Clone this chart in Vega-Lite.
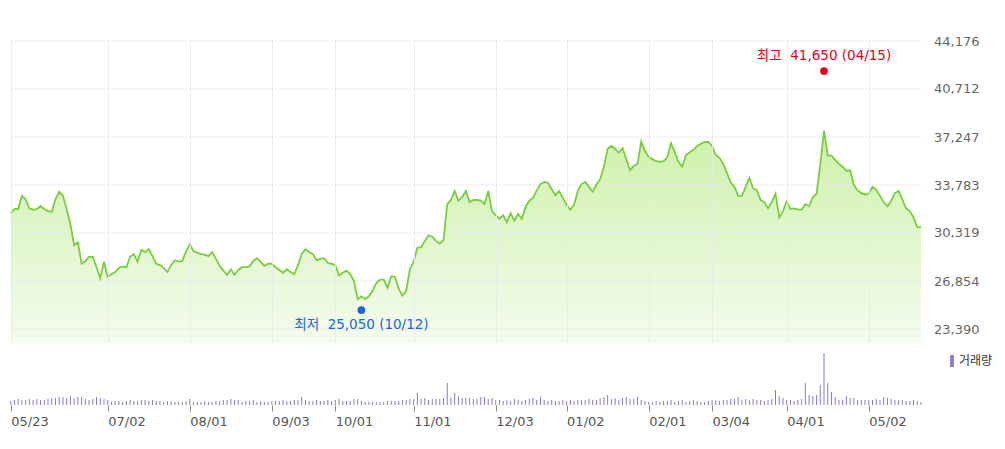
{
  "$schema": "https://vega.github.io/schema/vega-lite/v6.json",
  "background": "white",
  "padding": {"left": 3, "top": 35, "right": 0, "bottom": 0},
  "bounds": "flush",
  "spacing": 6,
  "config": {"view": {"stroke": null}, "axis": {"labelFont": "DejaVu Sans"}},
  "datasets": {
    "px": [
      {"d":"2018-05-23","c":31750,"v":40000},{"d":"2018-05-24","c":32050,"v":50000},{"d":"2018-05-25","c":32050,"v":60000},{"d":"2018-05-28","c":33000,"v":50000},{"d":"2018-05-29","c":32750,"v":50000},{"d":"2018-05-30","c":32100,"v":60000},{"d":"2018-05-31","c":32000,"v":50000},
      {"d":"2018-06-01","c":32050,"v":60000},{"d":"2018-06-04","c":32250,"v":50000},{"d":"2018-06-05","c":32050,"v":50000},{"d":"2018-06-07","c":31900,"v":60000},{"d":"2018-06-08","c":31850,"v":70000},{"d":"2018-06-11","c":32750,"v":70000},{"d":"2018-06-12","c":33300,"v":80000},{"d":"2018-06-14","c":33000,"v":80000},{"d":"2018-06-15","c":32050,"v":70000},{"d":"2018-06-18","c":30950,"v":90000},{"d":"2018-06-19","c":29450,"v":70000},{"d":"2018-06-20","c":29650,"v":80000},{"d":"2018-06-21","c":28100,"v":80000},{"d":"2018-06-22","c":28300,"v":60000},{"d":"2018-06-25","c":28600,"v":50000},{"d":"2018-06-26","c":28600,"v":60000},{"d":"2018-06-27","c":27850,"v":80000},{"d":"2018-06-28","c":27050,"v":70000},{"d":"2018-06-29","c":28250,"v":60000},
      {"d":"2018-07-02","c":27150,"v":50000},{"d":"2018-07-03","c":27350,"v":30000},{"d":"2018-07-04","c":27500,"v":40000},{"d":"2018-07-05","c":27800,"v":40000},{"d":"2018-07-06","c":27900,"v":30000},{"d":"2018-07-09","c":27850,"v":40000},{"d":"2018-07-10","c":28600,"v":50000},{"d":"2018-07-11","c":28800,"v":40000},{"d":"2018-07-12","c":28250,"v":40000},{"d":"2018-07-13","c":29100,"v":50000},{"d":"2018-07-16","c":28950,"v":50000},{"d":"2018-07-17","c":29150,"v":40000},{"d":"2018-07-18","c":28650,"v":50000},{"d":"2018-07-19","c":28100,"v":40000},{"d":"2018-07-20","c":28000,"v":40000},{"d":"2018-07-23","c":27800,"v":30000},{"d":"2018-07-24","c":27500,"v":40000},{"d":"2018-07-25","c":28000,"v":40000},{"d":"2018-07-26","c":28350,"v":30000},{"d":"2018-07-27","c":28250,"v":30000},{"d":"2018-07-30","c":28300,"v":30000},{"d":"2018-07-31","c":29000,"v":40000},
      {"d":"2018-08-01","c":29500,"v":60000},{"d":"2018-08-02","c":29000,"v":30000},{"d":"2018-08-03","c":28900,"v":30000},{"d":"2018-08-06","c":28800,"v":30000},{"d":"2018-08-07","c":28750,"v":40000},{"d":"2018-08-08","c":28650,"v":30000},{"d":"2018-08-09","c":28950,"v":30000},{"d":"2018-08-10","c":28450,"v":40000},{"d":"2018-08-13","c":27950,"v":40000},{"d":"2018-08-14","c":27600,"v":50000},{"d":"2018-08-16","c":27300,"v":50000},{"d":"2018-08-17","c":27700,"v":60000},{"d":"2018-08-20","c":27300,"v":50000},{"d":"2018-08-21","c":27650,"v":50000},{"d":"2018-08-22","c":27850,"v":30000},{"d":"2018-08-23","c":27850,"v":40000},{"d":"2018-08-24","c":27900,"v":40000},{"d":"2018-08-27","c":28300,"v":50000},{"d":"2018-08-28","c":28500,"v":30000},{"d":"2018-08-29","c":28250,"v":40000},{"d":"2018-08-30","c":27950,"v":30000},{"d":"2018-08-31","c":28100,"v":30000},
      {"d":"2018-09-03","c":28100,"v":40000},{"d":"2018-09-04","c":27850,"v":40000},{"d":"2018-09-05","c":27650,"v":40000},{"d":"2018-09-06","c":27450,"v":50000},{"d":"2018-09-07","c":27700,"v":40000},{"d":"2018-09-10","c":27500,"v":40000},{"d":"2018-09-11","c":27350,"v":50000},{"d":"2018-09-12","c":28000,"v":50000},{"d":"2018-09-13","c":28800,"v":80000},{"d":"2018-09-14","c":29150,"v":50000},{"d":"2018-09-17","c":28950,"v":40000},{"d":"2018-09-18","c":28800,"v":40000},{"d":"2018-09-19","c":28350,"v":50000},{"d":"2018-09-20","c":28450,"v":40000},{"d":"2018-09-21","c":28500,"v":40000},{"d":"2018-09-27","c":28150,"v":50000},{"d":"2018-09-28","c":28100,"v":40000},
      {"d":"2018-10-01","c":28000,"v":50000},{"d":"2018-10-02","c":27250,"v":60000},{"d":"2018-10-04","c":27450,"v":40000},{"d":"2018-10-05","c":27600,"v":40000},{"d":"2018-10-08","c":27350,"v":40000},{"d":"2018-10-10","c":26850,"v":60000},{"d":"2018-10-11","c":25550,"v":60000},{"d":"2018-10-12","c":25750,"v":40000},{"d":"2018-10-15","c":25550,"v":30000},{"d":"2018-10-16","c":25750,"v":30000},{"d":"2018-10-17","c":26150,"v":30000},{"d":"2018-10-18","c":26700,"v":30000},{"d":"2018-10-19","c":26950,"v":30000},{"d":"2018-10-22","c":26950,"v":30000},{"d":"2018-10-23","c":26350,"v":40000},{"d":"2018-10-24","c":27200,"v":40000},{"d":"2018-10-25","c":27150,"v":40000},{"d":"2018-10-26","c":26300,"v":40000},{"d":"2018-10-29","c":25800,"v":50000},{"d":"2018-10-30","c":26150,"v":50000},{"d":"2018-10-31","c":27700,"v":60000},
      {"d":"2018-11-01","c":28250,"v":60000},{"d":"2018-11-02","c":29250,"v":120000},{"d":"2018-11-05","c":29300,"v":60000},{"d":"2018-11-06","c":29750,"v":70000},{"d":"2018-11-07","c":30150,"v":50000},{"d":"2018-11-08","c":30050,"v":60000},{"d":"2018-11-09","c":29750,"v":60000},{"d":"2018-11-12","c":29550,"v":60000},{"d":"2018-11-13","c":29800,"v":70000},{"d":"2018-11-14","c":32400,"v":220000},{"d":"2018-11-15","c":32700,"v":70000},{"d":"2018-11-16","c":33350,"v":120000},{"d":"2018-11-19","c":32650,"v":90000},{"d":"2018-11-20","c":32900,"v":70000},{"d":"2018-11-21","c":33350,"v":70000},{"d":"2018-11-22","c":32550,"v":70000},{"d":"2018-11-23","c":32700,"v":60000},{"d":"2018-11-26","c":32700,"v":60000},{"d":"2018-11-27","c":32650,"v":80000},{"d":"2018-11-28","c":32400,"v":80000},{"d":"2018-11-29","c":33350,"v":60000},{"d":"2018-11-30","c":31900,"v":70000},
      {"d":"2018-12-03","c":31600,"v":50000},{"d":"2018-12-04","c":31350,"v":50000},{"d":"2018-12-05","c":31600,"v":40000},{"d":"2018-12-06","c":31100,"v":50000},{"d":"2018-12-07","c":31750,"v":40000},{"d":"2018-12-10","c":31200,"v":60000},{"d":"2018-12-11","c":31700,"v":50000},{"d":"2018-12-12","c":31350,"v":40000},{"d":"2018-12-13","c":32200,"v":50000},{"d":"2018-12-14","c":32650,"v":60000},{"d":"2018-12-17","c":32850,"v":70000},{"d":"2018-12-18","c":33400,"v":50000},{"d":"2018-12-19","c":33850,"v":80000},{"d":"2018-12-20","c":34000,"v":50000},{"d":"2018-12-21","c":33950,"v":40000},{"d":"2018-12-24","c":33500,"v":50000},{"d":"2018-12-26","c":33050,"v":40000},{"d":"2018-12-27","c":33350,"v":40000},{"d":"2018-12-28","c":32850,"v":50000},
      {"d":"2019-01-02","c":32350,"v":40000},{"d":"2019-01-03","c":32000,"v":50000},{"d":"2019-01-04","c":32350,"v":40000},{"d":"2019-01-07","c":33350,"v":50000},{"d":"2019-01-08","c":33850,"v":50000},{"d":"2019-01-09","c":34000,"v":50000},{"d":"2019-01-10","c":33650,"v":60000},{"d":"2019-01-11","c":33300,"v":50000},{"d":"2019-01-14","c":33800,"v":50000},{"d":"2019-01-15","c":34200,"v":70000},{"d":"2019-01-16","c":35100,"v":80000},{"d":"2019-01-17","c":36400,"v":100000},{"d":"2019-01-18","c":36600,"v":60000},{"d":"2019-01-21","c":36400,"v":70000},{"d":"2019-01-22","c":36100,"v":50000},{"d":"2019-01-23","c":36450,"v":70000},{"d":"2019-01-24","c":35650,"v":80000},{"d":"2019-01-25","c":34850,"v":60000},{"d":"2019-01-28","c":35150,"v":60000},{"d":"2019-01-29","c":35300,"v":80000},{"d":"2019-01-30","c":36900,"v":50000},{"d":"2019-01-31","c":36250,"v":40000},
      {"d":"2019-02-01","c":35800,"v":30000},{"d":"2019-02-07","c":35650,"v":30000},{"d":"2019-02-08","c":35500,"v":40000},{"d":"2019-02-11","c":35450,"v":30000},{"d":"2019-02-12","c":35500,"v":40000},{"d":"2019-02-13","c":35800,"v":40000},{"d":"2019-02-14","c":36800,"v":50000},{"d":"2019-02-15","c":36150,"v":30000},{"d":"2019-02-18","c":35450,"v":40000},{"d":"2019-02-19","c":35100,"v":50000},{"d":"2019-02-20","c":35950,"v":30000},{"d":"2019-02-21","c":36150,"v":40000},{"d":"2019-02-22","c":36300,"v":50000},{"d":"2019-02-25","c":36600,"v":40000},{"d":"2019-02-26","c":36750,"v":30000},{"d":"2019-02-27","c":36900,"v":30000},{"d":"2019-02-28","c":36900,"v":40000},
      {"d":"2019-03-04","c":36600,"v":50000},{"d":"2019-03-05","c":35950,"v":50000},{"d":"2019-03-06","c":35750,"v":40000},{"d":"2019-03-07","c":35300,"v":50000},{"d":"2019-03-08","c":34650,"v":50000},{"d":"2019-03-11","c":33950,"v":60000},{"d":"2019-03-12","c":33650,"v":60000},{"d":"2019-03-13","c":33000,"v":80000},{"d":"2019-03-14","c":33000,"v":50000},{"d":"2019-03-15","c":33650,"v":60000},{"d":"2019-03-18","c":34300,"v":50000},{"d":"2019-03-19","c":33550,"v":60000},{"d":"2019-03-20","c":33400,"v":50000},{"d":"2019-03-21","c":32700,"v":50000},{"d":"2019-03-22","c":32550,"v":40000},{"d":"2019-03-25","c":32100,"v":50000},{"d":"2019-03-26","c":32550,"v":60000},{"d":"2019-03-27","c":33150,"v":150000},{"d":"2019-03-28","c":31450,"v":90000},{"d":"2019-03-29","c":31900,"v":70000},
      {"d":"2019-04-01","c":32600,"v":50000},{"d":"2019-04-02","c":32050,"v":50000},{"d":"2019-04-03","c":32100,"v":40000},{"d":"2019-04-04","c":32000,"v":50000},{"d":"2019-04-05","c":32000,"v":60000},{"d":"2019-04-08","c":32400,"v":220000},{"d":"2019-04-09","c":32250,"v":100000},{"d":"2019-04-10","c":32900,"v":90000},{"d":"2019-04-11","c":33150,"v":100000},{"d":"2019-04-12","c":35250,"v":200000},{"d":"2019-04-15","c":37700,"v":520000},{"d":"2019-04-16","c":35900,"v":220000},{"d":"2019-04-17","c":35900,"v":130000},{"d":"2019-04-18","c":35600,"v":80000},{"d":"2019-04-19","c":35300,"v":50000},{"d":"2019-04-22","c":35100,"v":50000},{"d":"2019-04-23","c":34800,"v":90000},{"d":"2019-04-24","c":34850,"v":70000},{"d":"2019-04-25","c":33800,"v":70000},{"d":"2019-04-26","c":33400,"v":50000},{"d":"2019-04-29","c":33200,"v":50000},{"d":"2019-04-30","c":33100,"v":50000},
      {"d":"2019-05-02","c":33150,"v":50000},{"d":"2019-05-03","c":33650,"v":50000},{"d":"2019-05-07","c":33450,"v":60000},{"d":"2019-05-08","c":33000,"v":50000},{"d":"2019-05-09","c":32550,"v":80000},{"d":"2019-05-10","c":32250,"v":70000},{"d":"2019-05-13","c":32650,"v":60000},{"d":"2019-05-14","c":33200,"v":50000},{"d":"2019-05-15","c":33350,"v":50000},{"d":"2019-05-16","c":32750,"v":50000},{"d":"2019-05-17","c":32100,"v":40000},{"d":"2019-05-20","c":31900,"v":40000},{"d":"2019-05-21","c":31450,"v":50000},{"d":"2019-05-22","c":30750,"v":40000},{"d":"2019-05-23","c":30750,"v":30000}
    ],
    "ext": [
      {"d":"2019-04-15","p":41650,"t":"최고\u00a0 41,650 (04/15)","k":"hi"},
      {"d":"2018-10-12","p":25050,"t":"최저\u00a0 25,050 (10/12)","k":"lo"}
    ],
    "grid": [{"g":23390},{"g":26854},{"g":30319},{"g":33783},{"g":37247},{"g":40712},{"g":44176}]
  },
  "vconcat": [
    {
      "width": 1002,
      "height": 302,
      "encoding": {
        "x": {
          "field": "d", "type": "ordinal",
          "scale": {"type": "point", "range": [0, 919], "padding": 0.667, "align": 0.8},
          "axis": {
            "values": ["2018-05-23","2018-07-02","2018-08-01","2018-09-03","2018-10-01","2018-11-01","2018-12-03","2019-01-02","2019-02-01","2019-03-04","2019-04-01","2019-05-02"],
            "labels": false, "ticks": false, "domain": false, "grid": true, "gridColor": "#e9e9e9", "gridWidth": 1, "gridOpacity": 0.85, "title": null, "zindex": 1
          }
        }
      },
      "layer": [
        {
          "data": {"name": "px"},
          "mark": {"type": "area", "color": {"gradient": "linear", "x1": 0, "y1": 0, "x2": 0, "y2": 1, "stops": [{"offset": 0, "color": "#cdf1aa"}, {"offset": 1, "color": "#f4fcee"}]}},
          "encoding": {
            "y": {
              "field": "c", "type": "quantitative",
              "scale": {"domain": [22380, 44176], "zero": false, "nice": false},
              "axis": {
                "orient": "right", "values": [23390, 26854, 30319, 33783, 37247, 40712, 44176],
                "format": ",d", "ticks": false, "domain": false, "grid": false,
                "labelAlign": "right", "labelPadding": -26, "labelFontSize": 13, "labelColor": "#666", "title": null
              }
            },
            "y2": {"datum": 22380}
          }
        },
        {
          "data": {"name": "grid"},
          "mark": {"type": "rule", "color": "#e9e9e9", "strokeWidth": 1, "opacity": 0.85},
          "encoding": {
            "y": {"field": "g", "type": "quantitative"},
            "x": {"datum": "2018-05-23"},
            "x2": {"datum": "2019-05-23"}
          }
        },
        {
          "data": {"name": "px"},
          "mark": {"type": "line", "color": "#7acd3c", "strokeWidth": 1.8},
          "encoding": {"y": {"field": "c", "type": "quantitative"}}
        },
        {
          "data": {"values": [{"b": 22380}]},
          "mark": {"type": "rule", "color": "#999", "strokeWidth": 2},
          "encoding": {"y": {"field": "b", "type": "quantitative"}}
        },
        {
          "data": {"name": "ext"},
          "transform": [{"filter": "datum.k == 'hi'"}],
          "layer": [
            {"mark": {"type": "point", "filled": true, "color": "#e8001c", "size": 60, "opacity": 1, "yOffset": -5}},
            {"mark": {"type": "text", "color": "#e8001c", "font": "DejaVu Sans, Noto Sans CJK KR", "fontSize": 13.5, "baseline": "middle", "align": "center", "yOffset": -20}, "encoding": {"text": {"field": "t"}}}
          ],
          "encoding": {"y": {"field": "p", "type": "quantitative"}}
        },
        {
          "data": {"name": "ext"},
          "transform": [{"filter": "datum.k == 'lo'"}],
          "layer": [
            {"mark": {"type": "point", "filled": true, "color": "#1c66d4", "size": 60, "opacity": 1, "yOffset": 4}},
            {"mark": {"type": "text", "color": "#1c66d4", "font": "DejaVu Sans, Noto Sans CJK KR", "fontSize": 13.5, "baseline": "middle", "align": "center", "yOffset": 19}, "encoding": {"text": {"field": "t"}}}
          ],
          "encoding": {"y": {"field": "p", "type": "quantitative"}}
        }
      ]
    },
    {
      "width": 1002,
      "height": 56,
      "encoding": {
        "x": {
          "field": "d", "type": "ordinal",
          "scale": {"type": "point", "range": [0, 919], "padding": 0.667, "align": 0.8},
          "axis": {
            "values": ["2018-05-23","2018-07-02","2018-08-01","2018-09-03","2018-10-01","2018-11-01","2018-12-03","2019-01-02","2019-02-01","2019-03-04","2019-04-01","2019-05-02"],
            "labelExpr": "substring(datum.value,5,7) + '/' + substring(datum.value,8,10)",
            "grid": false, "domain": false, "ticks": true, "tickColor": "#888", "tickSize": 6,
            "labelAlign": "left", "labelBaseline": "top", "labelPadding": 4, "labelFontSize": 13, "labelColor": "#555", "labelAngle": 0, "title": null
          }
        }
      },
      "layer": [
        {
          "data": {"name": "px"},
          "mark": {"type": "bar", "width": 1},
          "encoding": {
            "y": {"field": "v", "type": "quantitative", "scale": {"domain": [0, 560000], "nice": false}, "axis": null},
            "color": {
              "datum": "거래량", "type": "nominal",
              "scale": {"range": ["#8a7bc4"]},
              "legend": {
                "title": null, "orient": "none", "legendX": 943, "legendY": 6,
                "symbolType": "M-0.32,-1H0.32V1H-0.32Z", "symbolSize": 144, "symbolStrokeWidth": 0,
                "labelFont": "Noto Sans CJK KR", "labelFontSize": 12, "labelColor": "#333", "labelOffset": 1, "padding": 0
              }
            }
          }
        },
        {
          "data": {"values": [{"b": 0}]},
          "mark": {"type": "rule", "color": "#888", "strokeWidth": 1.5},
          "encoding": {"y": {"field": "b", "type": "quantitative"}}
        }
      ]
    }
  ],
  "resolve": {"scale": {"x": "shared"}, "legend": {"color": "independent"}}
}
